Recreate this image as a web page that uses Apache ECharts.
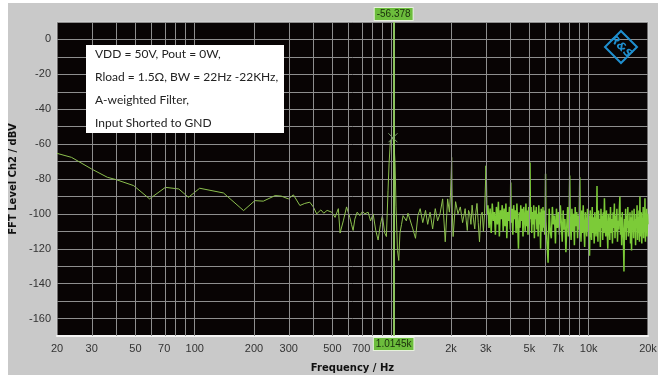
<!DOCTYPE html>
<html><head><meta charset="utf-8">
<script src="https://cdn.jsdelivr.net/npm/echarts@6/dist/echarts.min.js"></script>
<style>html,body{margin:0;padding:0;background:#fff}#c{width:661px;height:378px}</style>
</head><body><div id="c"></div>
<script>
// ---- axis ticks ----
const xTickHz = [20, 30, 50, 70, 100, 200, 300, 500, 700, 2000, 3000, 5000, 7000, 10000, 20000];
const xTickLabels = ['20', '30', '50', '70', '100', '200', '300', '500', '700', '2k', '3k', '5k', '7k', '10k', '20k'];
const gridHz = [30, 40, 50, 60, 70, 80, 90, 100, 200, 300, 400, 500, 600, 700, 800, 900, 1000, 2000, 3000, 4000, 5000, 6000, 7000, 8000, 9000, 10000];
const yTickLabels = [0, -20, -40, -60, -80, -100, -120, -140, -160];

// ---- marker ----
const markerHz = 1014.5;
const markerDb = -56.378;
const markerLabels = ['-56.378', '1.0145k'];

// ---- annotation ----
const noteLines = ['VDD = 50V, Pout = 0W,', 'Rload = 1.5\u03A9, BW = 22Hz -22KHz,', 'A-weighted Filter,', 'Input Shorted to GND'];

// ---- spectrum trace [Hz, dBV] ----
const lowTrace = [[20,-65.3],[23.7,-67.6],[30,-74.3],[36,-79],[40,-80.4],[49,-83.8],[59,-91.4],[71,-84.8],[83,-85.7],[93,-90.5],[106,-85.3],[140,-88],[177,-98.1],[202,-92.4],[223,-92.7],[256,-89.5],[275,-89.8],[299,-91.4],[317,-89.1],[342,-95.2],[362,-94],[384,-93.3],[400,-96],[416,-100],[437,-97.7],[452,-99.6],[470,-98],[496,-99],[516,-102],[536,-97],[547,-111],[568,-104],[590,-96],[613,-102],[625,-106],[637,-109.5],[650,-103],[668,-99],[689,-101],[711,-98.5],[730,-100],[759,-99],[781,-104],[805,-100],[830,-109.5],[853,-115],[877,-106],[897,-101],[922,-111],[940,-113],[958,-86.7],[970,-71],[985,-58],[1014.5,-56.378],[1030,-62],[1040,-71],[1052,-96],[1070,-121],[1086,-126.7],[1101,-111],[1122,-106],[1142,-101],[1166,-102],[1187,-104],[1210,-99.6]];
const midTrace = [[1232,-99],[1280,-108.6],[1321,-114],[1358,-101],[1395,-97],[1438,-105],[1485,-98],[1523,-106],[1566,-99],[1614,-108.6],[1664,-97],[1710,-104],[1759,-100],[1814,-91.4],[1870,-116],[1923,-91.4],[1963,-99],[1990,-88],[2016,-67.6],[2030,-99],[2050,-113],[2110,-93],[2170,-100],[2230,-96],[2290,-105],[2360,-97],[2390,-104],[2420,-109.5],[2455,-98],[2490,-100],[2525,-106],[2560,-95],[2600,-103],[2640,-108.6],[2675,-99],[2710,-94],[2750,-105],[2790,-116],[2835,-101],[2880,-99],[2920,-110],[2960,-100],[3012,-72.4]];
const bandA = [[3012,-72.4],[3040,-100],[3080,-95],[3120,-108],[3160,-97],[3200,-111],[3240,-94],[3280,-104],[3320,-99],[3360,-112],[3400,-96],[3440,-106],[3480,-93],[3520,-113],[3560,-98],[3600,-103],[3640,-95],[3680,-110],[3720,-97],[3760,-107],[3800,-94],[3840,-114],[3880,-99],[3920,-104],[3960,-96],[4000,-109],[4020,-82],[4040,-105],[4080,-97],[4120,-112],[4160,-95],[4200,-103],[4240,-98],[4280,-111],[4320,-94],[4360,-106],[4400,-120],[4440,-99],[4480,-108],[4520,-95],[4560,-104],[4600,-97],[4640,-113],[4680,-96],[4720,-102],[4760,-110],[4800,-94],[4840,-107],[4880,-98],[4920,-112],[4960,-96],[5000,-105],[5036,-70.5],[5060,-103],[5100,-96],[5140,-111],[5180,-99],[5220,-106],[5260,-95],[5300,-114],[5340,-98],[5380,-103],[5420,-96],[5460,-109],[5500,-100],[5540,-113],[5580,-95],[5620,-106],[5660,-99],[5700,-120],[5740,-97],[5780,-104],[5820,-110],[5860,-96],[5900,-108],[5940,-98],[5980,-112],[6020,-100],[6040,-77],[6060,-104]];
const bandB = [[6140,-104],[6220,-128],[6300,-97],[6380,-110],[6460,-114],[6540,-96],[6620,-106],[6700,-101],[6780,-117],[6860,-97],[6940,-108],[7020,-99],[7100,-112],[7180,-95],[7260,-105],[7340,-116],[7420,-98],[7500,-109],[7580,-103],[7660,-122],[7740,-107],[7820,-96],[7900,-113],[7960,-102],[8010,-78],[8060,-104],[8140,-115],[8220,-97],[8300,-110],[8380,-100],[8460,-118],[8540,-96],[8620,-107],[8700,-99],[8780,-114],[8860,-101],[8940,-109],[9010,-79],[9060,-105],[9140,-116],[9220,-98],[9300,-111],[9380,-95],[9460,-108],[9540,-119],[9620,-99],[9700,-106],[9780,-113],[9860,-97],[9940,-110],[10020,-101],[10100,-124],[10180,-98],[10260,-108],[10340,-115],[10420,-96],[10500,-111],[10580,-102],[10660,-117],[10740,-99],[10820,-107],[10900,-113],[10980,-100],[11020,-84],[11060,-104],[11140,-116],[11220,-98],[11300,-110],[11380,-103],[11460,-119],[11540,-97],[11620,-108],[11700,-101],[11780,-115],[11860,-99],[11940,-111]];
const bandC = [[12020,-91],[12100,-106],[12200,-113],[12300,-98],[12400,-109],[12500,-120],[12600,-100],[12700,-107],[12800,-115],[12900,-96],[13000,-111],[13100,-103],[13200,-117],[13300,-99],[13400,-108],[13500,-94],[13600,-114],[13700,-101],[13800,-110],[13900,-97],[14000,-116],[14100,-104],[14200,-109],[14300,-98],[14400,-90],[14500,-112],[14600,-102],[14700,-118],[14800,-99],[14900,-107],[15000,-114],[15100,-133],[15200,-103],[15300,-110],[15400,-97],[15500,-115],[15600,-101],[15700,-108],[15800,-96],[15900,-113],[16000,-104],[16100,-111],[16200,-99],[16300,-117],[16400,-102],[16500,-121],[16600,-98],[16700,-109],[16800,-105],[16900,-114],[17000,-97],[17100,-110],[17200,-103],[17300,-118],[17400,-100],[17500,-107],[17600,-95],[17700,-115],[17800,-102],[17900,-111],[18000,-98],[18100,-116],[18200,-90],[18300,-108],[18400,-113],[18500,-99],[18600,-117],[18700,-104],[18800,-110],[18900,-96],[19000,-114],[19100,-101],[19200,-109],[19300,-91],[19400,-116],[19500,-103],[19600,-111],[19700,-97],[19800,-113],[19900,-100],[20000,-106]];

// ---- build ----
const lg = Math.log10;
const toLog = arr => arr.map(p => [lg(p[0]), p[1]]);
const thinTrace = toLog([].concat(lowTrace, midTrace));
const denseTrace = toLog([].concat(bandA, bandB, bandC));
const tickLog = xTickHz.map(lg);
const gridLine = '#8e8e8e';
const chart = echarts.init(document.getElementById('c'), null, {renderer: 'canvas'});
const markLabel = txt => ({show: true, distance: 2, formatter: txt,
  backgroundColor: '#6cbd3c', borderColor: '#e6f2dc', borderWidth: 1, padding: [1, 2],
  color: '#1a300c', fontFamily: 'Liberation Sans', fontSize: 10});
chart.setOption({
  backgroundColor: '#c9c9c9',
  animation: false,
  grid: {left: 57, right: 13, top: 22, bottom: 41, show: true, backgroundColor: '#080404', borderColor: '#d6d6d6', borderWidth: 1},
  xAxis: {
    type: 'value', min: lg(20), max: lg(20000),
    name: 'Frequency / Hz', nameLocation: 'middle', nameGap: 27,
    nameTextStyle: {fontFamily: 'DejaVu Sans', fontWeight: 'bold', fontSize: 10, color: '#111'},
    axisLine: {show: true, onZero: false, lineStyle: {color: '#f4f4f4', width: 2}},
    axisTick: {show: false},
    splitLine: {show: false},
    axisLabel: {
      customValues: tickLog, margin: 7, fontFamily: 'Liberation Sans', fontSize: 11, color: '#333',
      formatter: v => { const i = tickLog.findIndex(t => Math.abs(t - v) < 1e-6); return i >= 0 ? xTickLabels[i] : ''; }
    }
  },
  yAxis: {
    type: 'value', min: -170, max: 10, interval: 10,
    name: 'FFT Level Ch2 / dBV', nameLocation: 'middle', nameGap: 38,
    nameTextStyle: {fontFamily: 'DejaVu Sans', fontWeight: 'bold', fontSize: 10, color: '#111'},
    axisLine: {show: false, onZero: false}, axisTick: {show: false},
    splitLine: {lineStyle: {color: gridLine, width: 1}},
    axisLabel: {margin: 6, fontFamily: 'Liberation Sans', fontSize: 11, color: '#333',
      formatter: v => yTickLabels.indexOf(v) >= 0 ? String(v) : ''}
  },
  series: [
    {
      type: 'line', data: [], z: 1, silent: true,
      markLine: {silent: true, symbol: 'none', animation: false, label: {show: false},
        lineStyle: {color: gridLine, type: 'solid', width: 1},
        data: gridHz.map(f => ({xAxis: lg(f)}))}
    },
    {
      type: 'line', data: thinTrace, z: 3, symbol: 'none', silent: true,
      lineStyle: {color: '#8cc04e', width: 1}
    },
    {
      type: 'line', data: denseTrace, z: 3, symbol: 'none', silent: true,
      lineStyle: {color: '#7ccb38', width: 1.5}
    },
    {
      type: 'line', data: [], z: 4, silent: true,
      markLine: {silent: true, symbol: 'none', animation: false,
        lineStyle: {color: '#95d064', type: 'solid', width: 1.5},
        data: [
          {xAxis: lg(markerHz), label: Object.assign(markLabel(markerLabels[0]), {position: 'end'})},
          {xAxis: lg(markerHz), label: Object.assign(markLabel(markerLabels[1]), {position: 'start'})}
        ]},
      markPoint: {silent: true, animation: false, symbol: 'path://M0,0L10,10M10,0L0,10', symbolSize: 9,
        itemStyle: {color: 'none', borderColor: '#7f9f70', borderWidth: 1}, label: {show: false},
        data: [{coord: [lg(markerHz), markerDb]}]}
    }
  ],
  graphic: [
    {type: 'rect', z: 100, shape: {x: 0, y: 0, width: 8, height: 378}, style: {fill: '#fff'}},
    {type: 'rect', z: 100, shape: {x: 0, y: 0, width: 661, height: 3}, style: {fill: '#fff'}},
    {type: 'rect', z: 100, shape: {x: 658, y: 0, width: 3, height: 378}, style: {fill: '#fff'}},
    {type: 'rect', z: 100, shape: {x: 0, y: 375, width: 661, height: 3}, style: {fill: '#fff'}},
    {type: 'rect', z: 100, shape: {x: 86, y: 45, width: 198, height: 88}, style: {fill: '#fff'}},
    ...noteLines.map((t, i) => ({type: 'text', z: 101, x: 95, y: 54 + i * 23,
      style: {text: t, fill: '#222', font: '12px Lato', textVerticalAlign: 'middle'}})),
    {type: 'polygon', z: 100, shape: {points: [[621, 31], [637, 47], [621, 63], [605, 47]]},
      style: {fill: 'none', stroke: '#1f8fcf', lineWidth: 2}},
    {type: 'text', z: 101, x: 621, y: 47, rotation: -Math.PI / 4,
      style: {text: 'R&S', fill: '#1f8fcf', font: 'bold italic 11px "DejaVu Sans"', textAlign: 'center', textVerticalAlign: 'middle'}}
  ]
});
</script></body></html>
